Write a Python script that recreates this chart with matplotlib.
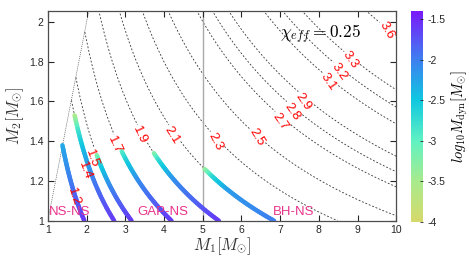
import numpy as np
import matplotlib
matplotlib.use("Agg")
import matplotlib.pyplot as plt
from matplotlib.collections import LineCollection
from matplotlib.colors import LinearSegmentedColormap, Normalize
import matplotlib.cm as cm

plt.rcParams['font.family'] = ['Liberation Sans', 'DejaVu Sans']
plt.rcParams['mathtext.fontset'] = 'cm'

# ---- data ----
chirp_levels = [1.2, 1.4, 1.5, 1.7, 1.9, 2.1, 2.3, 2.5, 2.7, 2.8, 2.9, 3.1, 3.2, 3.3, 3.6]
label_x = [1.66, 1.96, 2.13, 2.73, 3.38, 4.2, 5.32, 6.39, 7.0, 7.3, 7.6, 8.24, 8.52, 8.82, 9.75]
label_y = [1.12, 1.25, 1.31, 1.38, 1.43, 1.43, 1.40, 1.42, 1.50, 1.55, 1.60, 1.70, 1.75, 1.81, 1.96]

track_chirp = [1.2, 1.4, 1.5, 1.7, 1.9, 2.1]
track_m2 = [
    [1.38, 1.2, 1.0],
    [1.53, 1.45, 1.35, 1.2, 1.0],
    [1.33, 1.28, 1.15, 1.0],
    [1.35, 1.30, 1.2, 1.0],
    [1.34, 1.30, 1.2, 1.0],
    [1.26, 1.22, 1.15, 1.0],
]
track_logM = [
    [-2.3, -2.0, -1.6],
    [-3.6, -2.8, -2.4, -2.0, -1.6],
    [-3.3, -2.6, -2.0, -1.6],
    [-3.0, -2.6, -2.1, -1.6],
    [-3.3, -2.7, -2.1, -1.6],
    [-3.4, -2.7, -2.2, -2.0],
]
region_names = ["NS-NS", "GAP-NS", "BH-NS"]
region_x = [1.03, 3.3, 6.8]
region_y = [1.028, 1.028, 1.028]

cbar_ticks = [-1.5, -2, -2.5, -3, -3.5, -4]
cbar_lim = (-4, -1.4)

# label rotation (style)
label_rot = [-72, -70, -70, -65, -65, -58, -62, -58, -55, -55, -55, -55, -55, -55, -60]


def chirp(m1, m2):
    return (m1 * m2) ** 0.6 / (m1 + m2) ** 0.2


def solve_m1(mc, m2):
    m2 = np.asarray(m2, dtype=float)
    lo = m2 * 0 + 0.5
    hi = m2 * 0 + 30.0
    for _ in range(80):
        mid = 0.5 * (lo + hi)
        f = chirp(mid, m2) - mc
        lo = np.where(f < 0, mid, lo)
        hi = np.where(f >= 0, mid, hi)
    return 0.5 * (lo + hi)


cmap = LinearSegmentedColormap.from_list("mdyn", [
    (0.0, (0.84, 0.85, 0.42)),
    (0.19, (0.66, 0.92, 0.55)),
    (0.38, (0.38, 0.95, 0.76)),
    (0.58, (0.06, 0.78, 0.88)),
    (0.77, (0.24, 0.50, 0.94)),
    (1.0, (0.48, 0.10, 0.98)),
])
norm = Normalize(*cbar_lim)

fig = plt.figure(figsize=(4.69, 2.64), dpi=100)
ax = fig.add_axes([0.102, 0.164, 0.743, 0.794])
cax = fig.add_axes([0.876, 0.160, 0.025, 0.798])

ax.set_xlim(1, 10)
ax.set_ylim(1, 2.055)

# chirp mass contours (only m1 >= m2)
gx = np.linspace(1, 10, 900)
gy = np.linspace(1, 2.06, 400)
X, Y = np.meshgrid(gx, gy)
Z = np.ma.masked_where(X < Y, chirp(X, Y))
for lv, lx, ly, rot in zip(chirp_levels, label_x, label_y, label_rot):
    cs = ax.contour(X, Y, Z, levels=[lv], colors='#333333',
                    linewidths=0.6, linestyles=[(0, (2.2, 2.2))], zorder=1)
    res = ax.clabel(cs, fmt='%.1f', colors='red', fontsize=9.5,
                    inline=True, inline_spacing=1, manual=[(lx, ly)])
    t = res[-1]
    t.set_rotation(rot)
    t.set_position((lx, ly))
    t.set_zorder(5)

# m1 = m2 line
ax.plot([1, 2.06], [1, 2.06], color='#555555', lw=0.5, ls=(0, (1.5, 1.5)), zorder=1)
# m1 = 5 line
ax.axvline(5, color='#aaaaaa', lw=1.0, zorder=1)

# thick tracks
for mc, m2s, lm in zip(track_chirp, track_m2, track_logM):
    m2d = np.linspace(m2s[0], m2s[-1], 40)
    lmd = np.interp(m2d[::-1], m2s[::-1], lm[::-1])[::-1]
    m1d = solve_m1(mc, m2d)
    pts = np.column_stack([m1d, m2d]).reshape(-1, 1, 2)
    segs = np.concatenate([pts[:-1], pts[1:]], axis=1)
    lc = LineCollection(segs, cmap=cmap, norm=norm, linewidths=3.2,
                        capstyle='round', zorder=2)
    lc.set_array(0.5 * (lmd[:-1] + lmd[1:]))
    ax.add_collection(lc)

for name, x, y in zip(region_names, region_x, region_y):
    ax.text(x, y, name, color='#e8338a', fontsize=9.5, zorder=4)

ax.text(7.0, 1.92, r'$\chi_{eff} = 0.25$', fontsize=12.5, zorder=4)

ax.set_xlim(1, 10)
ax.set_ylim(1, 2.055)
ax.set_xticks(range(1, 11))
ax.set_yticks([1, 1.2, 1.4, 1.6, 1.8, 2])
ax.set_yticklabels(['1', '1.2', '1.4', '1.6', '1.8', '2'])
ax.tick_params(direction='in', top=True, right=True, labelsize=7.5,
               length=4, width=0.8, colors='#262626', pad=3)
for s in ax.spines.values():
    s.set_color('#4d4d4d')
    s.set_linewidth(0.9)
ax.set_xlabel(r'$M_1[M_{\odot}]$', fontsize=12, color='#333333', labelpad=0)
ax.set_ylabel(r'$M_2[M_{\odot}]$', fontsize=12, color='#333333', labelpad=2)

sm = cm.ScalarMappable(norm=norm, cmap=cmap)
cb = fig.colorbar(sm, cax=cax)
cb.set_ticks(cbar_ticks)
cb.set_ticklabels(['-1.5', '-2', '-2.5', '-3', '-3.5', '-4'])
cb.outline.set_visible(False)
cax.tick_params(direction='in', length=2, width=0.6, labelsize=7.5, colors='#262626')
cb.set_label(r'$log_{10}M_{\rm dyn}[M_{\odot}]$', fontsize=10.5, labelpad=3)

fig.savefig('out.png', dpi=100)
